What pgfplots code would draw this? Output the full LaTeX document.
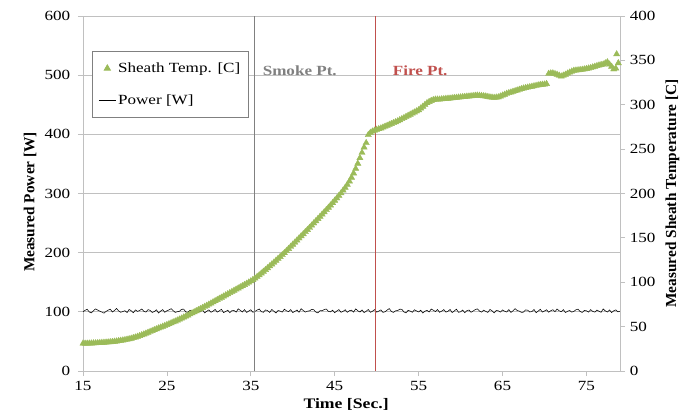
\documentclass[border=0pt]{standalone}
\usepackage{pgfplots}
\pgfplotsset{compat=1.18}
\usepackage{fontspec}
\setmainfont[FakeStretch=1.22]{Liberation Serif}
\newfontfamily\plainfont{Liberation Serif}
\definecolor{grn}{HTML}{9BBB59}
\definecolor{firered}{HTML}{C0504D}
\definecolor{gridgray}{HTML}{C0C0C0}
\definecolor{smokegray}{HTML}{808080}
\pgfplotstableread{
t p
15 100.25
15.25 102.5
15.5 104.25
15.75 99.75
16 98.25
16.25 102.0
16.5 105.0
16.75 103.0
17 101.25
17.25 99.5
17.5 97.75
17.75 100.75
18 102.75
18.25 104.5
18.5 99.75
18.75 102.25
19 105.75
19.25 101.5
19.5 99.25
19.75 100.5
20 102.0
20.25 98.75
20.5 104.0
20.75 101.75
21 98.5
21.25 103.25
21.5 100.75
21.75 102.25
22 104.75
22.25 101.0
22.5 99.5
22.75 103.75
23 102.5
23.25 99.0
23.5 100.5
23.75 103.5
24 98.0
24.25 101.25
24.5 103.75
24.75 99.25
25 101.75
25.25 103.25
25.5 105.25
25.75 102.0
26 99.0
26.25 100.25
26.5 101.0
26.75 104.25
27 104.5
27.25 100.0
27.5 98.75
27.75 102.75
28 101.5
28.25 99.5
28.5 105.5
28.75 102.25
29 100.0
29.25 103.5
29.5 98.25
29.75 101.0
30 103.25
30.25 99.25
30.5 101.25
30.75 104.0
31 99.5
31.25 101.75
31.5 104.25
31.75 98.75
32 100.5
32.25 102.75
32.5 98.5
32.75 102.0
33 102.25
33.25 99.5
33.5 105.0
33.75 102.5
34 99.75
34.25 103.75
34.5 99.0
34.75 101.25
35 103.5
35.25 99.25
35.5 100.75
35.75 103.0
36 104.75
36.25 100.25
36.5 99.25
36.75 103.25
37 102.0
37.25 99.0
37.5 104.0
37.75 101.0
38 98.0
38.25 102.25
38.5 101.25
38.75 99.5
39 104.5
39.25 101.75
39.5 100.25
39.75 103.75
40 98.75
40.25 100.75
40.5 103.0
40.75 99.25
41 105.25
41.25 102.25
41.5 99.5
41.75 101.25
42 101.5
42.25 104.25
42.5 103.5
42.75 99.5
43 98.25
43.25 102.0
43.5 101.75
43.75 104.0
44 104.75
44.25 100.75
44.5 100.0
44.75 102.75
45 98.5
45.25 101.5
45.5 103.75
45.75 99.25
46 100.75
46.25 103.5
46.5 99.25
46.75 102.0
47 102.75
47.25 99.5
47.5 105.0
47.75 101.75
48 99.75
48.25 103.25
48.5 98.75
48.75 101.0
49 104.0
49.25 99.25
49.5 101.0
49.75 103.75
50 99.5
50.25 101.25
50.5 103.25
50.75 99.0
51 100.25
51.25 103.0
51.5 105.5
51.75 100.75
52 99.0
52.25 101.75
52.5 102.0
52.75 104.5
53 104.25
53.25 99.75
53.5 98.25
53.75 102.5
54 101.25
54.25 99.25
54.5 103.5
54.75 101.5
55 99.75
55.25 102.75
55.5 98.0
55.75 101.0
56 102.5
56.25 99.75
56.5 104.75
56.75 102.75
57 100.5
57.25 103.75
57.5 99.25
57.75 101.25
58 103.75
58.25 99.5
58.5 101.0
58.75 104.0
59 98.75
59.25 101.5
59.5 104.5
59.75 99.25
60 100.0
60.25 103.0
60.5 98.5
60.75 102.0
61 103.0
61.25 99.25
61.5 101.5
61.75 103.75
62 105.0
62.25 101.25
62.5 99.5
62.75 102.75
63 100.75
63.25 99.0
63.5 104.0
63.75 101.75
64 98.25
64.25 102.25
64.5 101.75
64.75 99.5
65 103.25
65.25 101.0
65.5 99.75
65.75 103.75
66 99.0
66.25 101.75
66.5 105.25
66.75 102.25
67 101.25
67.25 99.0
67.5 99.5
67.75 103.25
68 102.75
68.25 99.75
68.5 100.5
68.75 104.0
69 98.5
69.25 101.25
69.5 104.25
69.75 99.5
70 101.5
70.25 103.5
70.5 99.25
70.75 102.0
71 103.5
71.25 100.25
71.5 104.75
71.75 101.75
72 100.25
72.25 103.75
72.5 98.75
72.75 101.0
73 102.25
73.25 99.5
73.5 100.75
73.75 103.5
74 104.5
74.25 100.5
74.5 99.0
74.75 102.25
75 101.75
75.25 99.5
75.5 103.75
75.75 100.75
76 99.5
76.25 103.0
76.5 101.0
76.75 99.25
77 105.0
77.25 101.5
77.5 99.75
77.75 103.25
78 98.75
78.25 101.75
78.5 103.25
78.75 100.0
79 101.0
}\powertable
\pgfplotstableread{
t c
15 31.0
15.25 31.0
15.5 31.0
15.75 31.1
16 31.2
16.25 31.3
16.5 31.4
16.75 31.55
17 31.7
17.25 31.85
17.5 32.0
17.75 32.2
18 32.4
18.25 32.65
18.5 32.9
18.75 33.2
19 33.5
19.25 33.85
19.5 34.2
19.75 34.6
20 35.0
20.25 35.5
20.5 36.0
20.75 36.6
21 37.3
21.25 38.0
21.5 38.8
21.75 39.6
22 40.5
22.25 41.4
22.5 42.3
22.75 43.3
23 44.3
23.25 45.2
23.5 46.2
23.75 47.2
24 48.2
24.25 49.1
24.5 50.1
24.75 51.0
25 52.0
25.25 53.0
25.5 54.0
25.75 55.0
26 56.0
26.25 57.1
26.5 58.2
26.75 59.3
27 60.5
27.25 61.6
27.5 62.8
27.75 64.0
28 65.2
28.25 66.4
28.5 67.6
28.75 68.8
29 70.0
29.25 71.2
29.5 72.5
29.75 73.7
30 75.0
30.25 76.3
30.5 77.6
30.75 78.9
31 80.2
31.25 81.5
31.5 82.8
31.75 84.1
32 85.4
32.25 86.7
32.5 88.0
32.75 89.3
33 90.6
33.25 91.9
33.5 93.2
33.75 94.5
34 95.8
34.25 97.1
34.5 98.4
34.75 99.8
35 101.2
35.25 102.8
35.5 104.4
35.75 106.2
36 108.0
36.25 110.0
36.5 112.0
36.75 114.0
37 116.0
37.25 118.1
37.5 120.2
37.75 122.3
38 124.5
38.25 126.6
38.5 128.7
38.75 130.8
39 133.0
39.25 135.3
39.5 137.7
39.75 140.1
40 142.5
40.25 144.8
40.5 147.2
40.75 149.6
41 152.0
41.25 154.3
41.5 156.7
41.75 159.1
42 161.5
42.25 164.0
42.5 166.5
42.75 169.0
43 171.5
43.25 174.0
43.5 176.5
43.75 179.0
44 181.5
44.25 184.1
44.5 186.7
44.75 189.3
45 192.0
45.25 194.7
45.5 197.5
45.75 200.4
46 203.5
46.25 206.6
46.5 210.0
46.75 213.8
47 218.0
47.25 222.8
47.5 228.0
47.75 233.8
48 240.0
48.25 246.0
48.5 252.0
48.75 257.0
49 266.0
49.25 268.5
49.5 270.0
49.75 271.0
50 272.0
50.25 272.7
50.5 273.5
50.75 274.5
51 275.5
51.25 276.5
51.5 277.5
51.75 278.5
52 279.5
52.25 280.5
52.5 281.5
52.75 282.8
53 284.0
53.25 285.2
53.5 286.5
53.75 287.8
54 289.0
54.25 290.2
54.5 291.5
54.75 292.7
55 294.0
55.25 296.0
55.5 298.0
55.75 300.0
56 302.0
56.25 303.3
56.5 304.5
56.75 305.4
57 306.0
57.25 306.0
57.5 306.0
57.75 306.3
58 306.5
58.25 306.8
58.5 307.0
58.75 307.2
59 307.5
59.25 307.8
59.5 308.0
59.75 308.3
60 308.5
60.25 308.8
60.5 309.0
60.75 309.3
61 309.5
61.25 309.8
61.5 310.0
61.75 310.3
62 310.5
62.25 310.3
62.5 310.0
62.75 309.8
63 309.5
63.25 309.0
63.5 308.5
63.75 308.2
64 308.0
64.25 308.2
64.5 308.5
64.75 309.5
65 310.5
65.25 311.5
65.5 312.5
65.75 313.3
66 314.0
66.25 314.8
66.5 315.5
66.75 316.3
67 317.0
67.25 317.8
67.5 318.5
67.75 319.0
68 319.5
68.25 320.0
68.5 320.5
68.75 321.0
69 321.5
69.25 322.0
69.5 322.5
69.75 322.8
70 323.0
70.25 323.5
70.5 335.0
70.75 335.5
71 335.5
71.25 334.8
71.5 334.0
71.75 333.0
72 332.0
72.25 333.0
72.5 334.0
72.75 335.3
73 336.5
73.25 337.5
73.5 338.5
73.75 338.8
74 339.0
74.25 339.3
74.5 339.5
74.75 340.0
75 340.5
75.25 341.0
75.5 341.5
75.75 342.3
76 343.0
76.25 343.8
76.5 344.5
76.75 345.0
77 345.5
77.25 346.8
77.5 348.0
77.75 345.5
78 343.0
78.25 340.0
78.5 341.0
78.6 357.0
78.8 347.0
}\temptable
\begin{document}
\fontsize{14bp}{16bp}\selectfont
\begin{tikzpicture}
\useasboundingbox (-83bp,-45bp) rectangle (605bp,371bp);
\pgfplotsset{
  base/.style={
    scale only axis, width=537bp, height=355bp, at={(0,0)}, anchor=south west,
    xmin=15, xmax=79,
    axis line style={gridgray, line width=0.8bp},
    tick style={gridgray, line width=0.8bp},
    tick align=outside, major tick length=5bp,
    /pgf/number format/assume math mode=true,
    ticklabel style={font=\fontsize{14bp}{16bp}\selectfont},
    label style={font=\plainfont\fontsize{15.3bp}{17bp}\selectfont\bfseries},
  }
}
\begin{axis}[base,
  ymin=0, ymax=600,
  xtick={15,25,...,75}, ytick={0,100,...,600},
  axis y line*=left, axis x line*=bottom,
  ymajorgrids, grid style={gridgray, line width=0.8bp},
  yticklabel style={xshift=-3bp},
  ylabel={Measured Power [W]},
  ylabel style={at={(axis description cs:-0.0987,0.476)}, anchor=center},
  xlabel={Time [Sec.]},
  xlabel style={at={(axis description cs:0.49,-0.093)}, anchor=center, font=\fontsize{14.5bp}{16bp}\selectfont\bfseries},
  clip=false,
]
\addplot[black, line width=0.55bp] table[x=t, y=p] {\powertable};
\addplot[smokegray, line width=1bp] coordinates {(35.4,0) (35.4,600)};
\addplot[firered, line width=1bp] coordinates {(49.9,0) (49.9,600)};
\node[anchor=west, text=smokegray, font=\fontsize{14bp}{16bp}\selectfont\bfseries, inner sep=0pt] at (axis cs:36.4,508) {Smoke Pt.};
\node[anchor=west, text=firered, font=\fontsize{14bp}{16bp}\selectfont\bfseries, inner sep=0pt] at (axis cs:51.9,508) {Fire Pt.};
\end{axis}
\begin{axis}[base,
  ymin=0, ymax=400,
  ytick={0,50,...,400},
  axis y line*=right, axis x line=none,
  ylabel={Measured Sheath Temperature [C]},
  ylabel style={at={(axis description cs:1.0977,0.5)}, anchor=center},
  legend style={at={(axis description cs:0.017,0.901)}, anchor=north west,
    draw=smokegray, line width=0.8bp, font=\fontsize{14bp}{16bp}\selectfont,
    row sep=16bp, inner xsep=6bp, inner ysep=9bp},
  legend cell align=left,
]
\addplot[only marks, mark=triangle*, mark size=3.6bp, color=grn] table[x=t, y=c] {\temptable};
\addlegendentry{Sheath Temp. [C]}
\addlegendimage{black, line width=0.6bp}
\addlegendentry{Power [W]}
\end{axis}
\end{tikzpicture}
\end{document}
